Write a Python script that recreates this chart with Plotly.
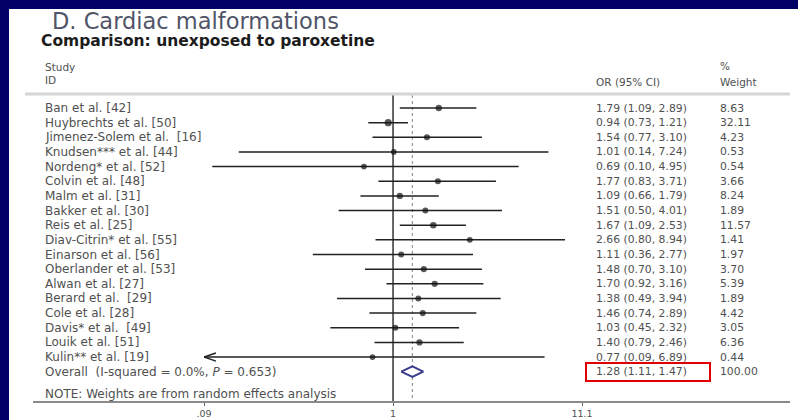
import math
import plotly.graph_objects as go

# ---- study-level data ----
studies = [
    "Ban et al. [42]", "Huybrechts et al. [50]", "Jimenez-Solem et al.  [16]",
    "Knudsen*** et al. [44]", "Nordeng* et al. [52]", "Colvin et al. [48]",
    "Malm et al. [31]", "Bakker et al. [30]", "Reis et al. [25]",
    "Diav-Citrin* et al. [55]", "Einarson et al. [56]", "Oberlander et al. [53]",
    "Alwan et al. [27]", "Berard et al.  [29]", "Cole et al. [28]",
    "Davis* et al.  [49]", "Louik et al. [51]", "Kulin** et al. [19]",
]
odds_ratio = [1.79, 0.94, 1.54, 1.01, 0.69, 1.77, 1.09, 1.51, 1.67,
              2.66, 1.11, 1.48, 1.70, 1.38, 1.46, 1.03, 1.40, 0.77]
ci_low = [1.09, 0.73, 0.77, 0.14, 0.10, 0.83, 0.66, 0.50, 1.09,
          0.80, 0.36, 0.70, 0.92, 0.49, 0.74, 0.45, 0.79, 0.09]
ci_high = [2.89, 1.21, 3.10, 7.24, 4.95, 3.71, 1.79, 4.01, 2.53,
           8.94, 2.77, 3.10, 3.16, 3.94, 2.89, 2.32, 2.46, 6.89]
weight = [8.63, 32.11, 4.23, 0.53, 0.54, 3.66, 8.24, 1.89, 11.57,
          1.41, 1.97, 3.70, 5.39, 1.89, 4.42, 3.05, 6.36, 0.44]

overall_or = 1.28
overall_low = 1.11
overall_high = 1.47
overall_weight = 100.00
overall_label = "Overall  (I-squared = 0.0%, <i>P</i> = 0.653)"

axis_ticks = [0.09, 1, 11.1]
axis_ticktext = [".09", "1", "11.1"]

# ---- page geometry helpers (pixels -> paper) ----
W, H = 798, 420
ROW0, ROWH = 108, 14.65          # pixel centre of first row, row pitch
AXIS_Y = 402                      # pixel height of the x axis


def px(x):
    return x / W


def py(y):
    return 1 - y / H


FONT = "DejaVu Sans"
GREY = "#505050"
NAVY = "#000066"

n = len(studies)
overall_row = n

fig = go.Figure()

# null line at OR = 1 and dotted line at the pooled estimate
top_row = (95 - ROW0) / ROWH
bottom_row = (AXIS_Y - ROW0) / ROWH
fig.add_trace(go.Scatter(x=[1, 1], y=[top_row, bottom_row], mode="lines",
                         line=dict(color="#333333", width=1.5), hoverinfo="skip"))
fig.add_trace(go.Scatter(x=[overall_or, overall_or], y=[top_row, bottom_row - 0.1],
                         mode="lines", line=dict(color="#9a9a9a", width=1.2, dash="dot"),
                         hoverinfo="skip"))

# confidence-interval whiskers
xs, ys = [], []
for i in range(n):
    xs += [ci_low[i], ci_high[i], None]
    ys += [i, i, None]
fig.add_trace(go.Scatter(x=xs, y=ys, mode="lines",
                         line=dict(color="#222222", width=1.5), hoverinfo="skip"))

# open arrowheads where an interval is truncated at the axis limit
x_min = axis_ticks[0]
ax_x, ax_y = [], []
for i in range(n):
    if ci_low[i] <= x_min:
        tip = x_min
        arm = tip * 10 ** 0.066
        ax_x += [arm, tip, arm, None]
        ax_y += [i - 0.28, i, i + 0.28, None]
fig.add_trace(go.Scatter(x=ax_x, y=ax_y, mode="lines",
                         line=dict(color="#222222", width=1.5), hoverinfo="skip"))

# point estimates
fig.add_trace(go.Scatter(
    x=odds_ratio, y=list(range(n)), mode="markers",
    marker=dict(color="#111111", size=[5.5 + 0.3 * math.sqrt(w) for w in weight],
                line=dict(width=0)),
    hoverinfo="skip"))

# pooled diamond
dh = 0.36
fig.add_trace(go.Scatter(
    x=[overall_low, overall_or, overall_high, overall_or, overall_low],
    y=[overall_row, overall_row - dh, overall_row, overall_row + dh, overall_row],
    mode="lines", fill="toself", fillcolor="white",
    line=dict(color="#3a3d8c", width=2), hoverinfo="skip"))

ann = []


def txt(text, x, y, size=11, color=GREY, yref="y", xanchor="left", family=FONT):
    ann.append(dict(text=text, x=x, y=y, xref="paper", yref=yref, xanchor=xanchor,
                    yanchor="middle", showarrow=False,
                    font=dict(family=family, size=size, color=color)))


# titles
txt("D. Cardiac malformations", px(50), py(21), size=22.5, color="#4f5468", yref="paper")
txt("<b>Comparison: unexposed to paroxetine</b>", px(39), py(41), size=15.5,
    color="#1c1c1c", yref="paper")

# column headers
txt("Study", px(43), py(67), size=10.5, yref="paper")
txt("ID", px(43), py(80), size=10.5, yref="paper")
txt("OR (95% CI)", px(594), py(82), size=10.5, yref="paper")
txt("%", px(718), py(66), size=10.5, yref="paper")
txt("Weight", px(718), py(82), size=10.5, yref="paper")

# rows
for i in range(n):
    txt(studies[i], px(43), i, size=12)
    txt(f"{odds_ratio[i]:.2f} ({ci_low[i]:.2f}, {ci_high[i]:.2f})", px(594), i, size=10.8)
    txt(f"{weight[i]:.2f}", px(718), i, size=10.8)

txt(overall_label, px(43), overall_row, size=12)
txt(f"{overall_or:.2f} ({overall_low:.2f}, {overall_high:.2f})", px(594), overall_row, size=10.8)
txt(f"{overall_weight:.2f}", px(718), overall_row, size=10.8)
txt("NOTE: Weights are from random effects analysis", px(43), overall_row + 1.55, size=12)

shapes = [
    # white card over the navy page (runs off the right and bottom edges)
    dict(type="rect", xref="paper", yref="paper", x0=px(9), x1=1.1, y0=-0.1, y1=py(9),
         fillcolor="white", line=dict(width=0), layer="below"),
    # header rule
    dict(type="line", xref="paper", yref="paper", x0=px(25), x1=px(790),
         y0=py(94), y1=py(94), line=dict(color="#d6d6d6", width=3)),
    # bottom rule / axis line
    dict(type="line", xref="paper", yref="paper", x0=px(33), x1=px(790),
         y0=py(AXIS_Y), y1=py(AXIS_Y), line=dict(color="#8a8a8a", width=2)),
    # highlight around the pooled estimate
    dict(type="rect", xref="paper", yref="paper", x0=px(586), x1=px(710),
         y0=py(381), y1=py(363), line=dict(color="#e00000", width=2),
         fillcolor="rgba(0,0,0,0)"),
]

lo_r = math.log10(axis_ticks[0]) - 1e-6
hi_r = math.log10(axis_ticks[-1]) + 1e-6

fig.update_layout(
    width=W, height=H, autosize=False,
    margin=dict(l=0, r=0, t=0, b=0, pad=0, autoexpand=False),
    paper_bgcolor=NAVY, plot_bgcolor="rgba(0,0,0,0)",
    showlegend=False,
    annotations=ann, shapes=shapes,
    xaxis=dict(type="log", range=[lo_r, hi_r], domain=[px(204), px(582)],
               tickvals=axis_ticks, ticktext=axis_ticktext, ticks="outside",
               ticklen=3, tickcolor="#666666", tickwidth=1, automargin=False,
               tickfont=dict(family=FONT, size=9.5, color=GREY),
               showgrid=False, zeroline=False, showline=False, fixedrange=True),
    yaxis=dict(range=[(AXIS_Y - ROW0) / ROWH, -ROW0 / ROWH], automargin=False,
               domain=[1 - AXIS_Y / H, 1], visible=False, fixedrange=True),
)

fig.write_html("out.html")
